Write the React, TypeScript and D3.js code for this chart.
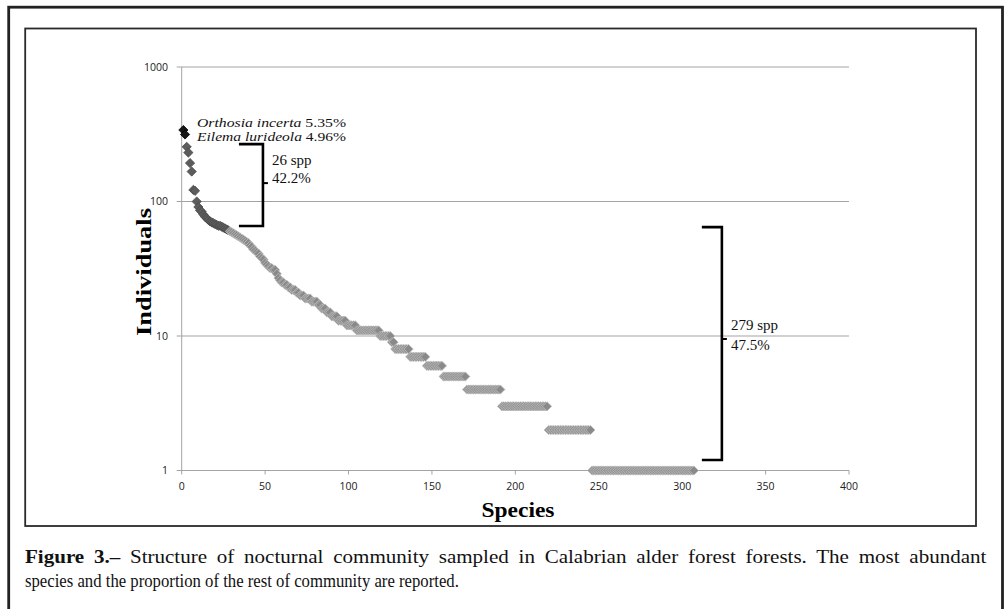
import React, { useRef, useLayoutEffect } from 'react';
import * as d3 from 'd3';

// rank-abundance data (individuals per species, in decreasing order)
const topSpecies = ['Orthosia incerta', 'Eilema lurideola'];
const topShare = ['5.35%', '4.96%'];
const topIndividuals = [340, 315];

// the next 26 species (42.2%)
const midIndividuals = [
  255, 231, 193, 167, 122, 120, 100, 91, 86, 84, 80, 77, 75, 73, 71, 70,
  69, 68, 67, 66, 66, 65, 64, 63, 62, 61,
];

// the remaining 279 species (47.5%): first ranks one by one...
const tailIndividuals = [
  60, 59, 58, 57, 56, 55, 54, 53, 52, 51, 50, 49, 47, 46, 44, 43, 42, 41, 39, 38,
  37, 35, 34, 33, 32, 32, 31, 31, 29, 27, 26, 25, 25, 24, 24, 23, 23, 22, 22, 22,
  21, 21, 20, 20, 20, 19, 19, 19, 19, 18, 18, 18, 18, 17, 17, 16, 16, 16, 15, 15,
  15, 14, 14, 14, 14, 13, 13, 13, 13, 13, 12, 12, 12, 12, 12, 12,
];
// ...then the runs of tied abundances
const tailLevels = [11, 10, 9, 8, 7, 6, 5, 4, 3, 2, 1];
const tailLevelSpecies = [14, 7, 2, 9, 10, 10, 14, 21, 28, 26, 62];

const xTicks = [0, 50, 100, 150, 200, 250, 300, 350, 400];
const yTicks = [1, 10, 100, 1000];

// brackets, in data units
const brackets = [
  { x0: 34.3, x1: 48.7, yTop: 267, yBot: 65.8, yMid: 137, label: ['26 spp', '42.2%'], dy: [-18, -0.3] },
  { x0: 311.8, x1: 323.8, yTop: 64.5, yBot: 1.197, yMid: 9.5, label: ['279 spp', '47.5%'], dy: [-9, 11] },
];

const captionBold = 'Figure 3.–';
const captionLine1 = ' Structure of nocturnal community sampled in Calabrian alder forest forests. The most abundant';
const captionLine2 = 'species and the proportion of the rest of community are reported.';

type Pt = { rank: number; n: number; group: number };

const buildPoints = (): Pt[] => {
  const pts: Pt[] = [];
  let rank = 1;
  topIndividuals.forEach((n) => pts.push({ rank: rank++, n, group: 0 }));
  midIndividuals.forEach((n) => pts.push({ rank: rank++, n, group: 1 }));
  tailIndividuals.forEach((n) => pts.push({ rank: rank++, n, group: 2 }));
  tailLevels.forEach((n, i) => {
    for (let k = 0; k < tailLevelSpecies[i]; k++) pts.push({ rank: rank++, n, group: 2 });
  });
  return pts;
};

const fills = ['#161616', '#5c5c5c', '#8a8a8a'];
const strokes = ['#000', '#4a4a4a', '#bcbcbc'];

const App = () => {
  const g1 = useRef<SVGGElement>(null);
  const g2 = useRef<SVGGElement>(null);
  const line1Ref = useRef<SVGTextElement>(null);
  const line2Ref = useRef<SVGTextElement>(null);

  // caption: line 1 justified to the box width, line 2 left aligned
  useLayoutEffect(() => {
    const l1 = line1Ref.current, l2 = line2Ref.current;
    if (!l1 || !l2 || !g1.current || !g2.current) return;
    const sx2 = 434 / l2.getComputedTextLength();
    d3.select(g2.current).attr('transform', `translate(25,0) scale(${sx2},1)`);
    const spaces = (captionBold + captionLine1).split(' ').length - 1;
    const extra = 4.5; // extra px per word gap
    const sx1 = (962 - spaces * extra) / l1.getComputedTextLength();
    d3.select(g1.current).attr('transform', `translate(25,0) scale(${sx1},1)`);
    d3.select(l1).attr('word-spacing', extra / sx1);
  }, []);

  const x = d3.scaleLinear().domain([0, 400]).range([181.7, 849]);
  const y = d3.scaleLog().domain([1, 1000]).range([470.5, 67]);
  const points = buildPoints();
  const d = 4.6;
  const diamond = `M0,${-d}L${d},0L0,${d}L${-d},0Z`;
  const axisFont = "'Open Sans', sans-serif";
  const serif = "'Liberation Serif', 'Times New Roman', serif";

  return (
    <svg width={1004} height={609} style={{ position: 'absolute', left: 0, top: 0, background: '#fff' }}>
      {/* frames */}
      <rect x={8.7} y={7.2} width={993.8} height={620} fill="none" stroke="#222" strokeWidth={2.8} />
      <rect x={25.2} y={28.5} width={950.8} height={497.5} fill="none" stroke="#2a2a2a" strokeWidth={1.8} />

      {/* gridlines */}
      {yTicks.map((t) => (
        <line key={'g' + t} x1={x(0) - 5} x2={x(400)} y1={y(t)} y2={y(t)} stroke="#a3a3a3" strokeWidth={1} />
      ))}
      <line x1={x(0)} x2={x(0)} y1={y(1000)} y2={y(1)} stroke="#a3a3a3" strokeWidth={1} />
      {xTicks.map((t) => (
        <line key={'xt' + t} x1={x(t)} x2={x(t)} y1={y(1)} y2={y(1) + 4} stroke="#a3a3a3" strokeWidth={1} />
      ))}

      {/* tick labels */}
      {yTicks.map((t) => (
        <text key={'yl' + t} x={168} y={y(t) + 3.5} textAnchor="end" fontFamily={axisFont} fontSize={10.5} fill="#222">
          {t}
        </text>
      ))}
      {xTicks.map((t) => (
        <text key={'xl' + t} x={x(t)} y={490} textAnchor="middle" fontFamily={axisFont} fontSize={10.5} fill="#222">
          {t}
        </text>
      ))}

      {/* axis titles */}
      <text x={518} y={517} textAnchor="middle" fontFamily={serif} fontWeight="bold" fontSize={21}
        textLength={73} lengthAdjust="spacingAndGlyphs">Species</text>
      <text transform="translate(151,272) rotate(-90)" textAnchor="middle" fontFamily={serif} fontWeight="bold"
        fontSize={22} textLength={128} lengthAdjust="spacingAndGlyphs">Individuals</text>

      {/* points */}
      {points.map((p) => (
        <path key={p.rank} d={diamond} transform={`translate(${x(p.rank)},${y(p.n)})`}
          fill={fills[p.group]} stroke={strokes[p.group]} strokeWidth={0.8} />
      ))}

      {/* top species labels */}
      {topSpecies.map((s, i) => (
        <text key={s} x={197} y={126.8 + i * 14} fontFamily={serif} fontSize={13.5} fill="#111"
          textLength={149} lengthAdjust="spacingAndGlyphs">
          <tspan fontStyle="italic">{s}</tspan> {topShare[i]}
        </text>
      ))}

      {/* brackets */}
      {brackets.map((b, i) => {
        const xr = x(b.x1);
        return (
          <g key={'b' + i}>
            <path d={`M${x(b.x0)},${y(b.yTop)}H${xr}V${y(b.yBot)}H${x(b.x0)}`} fill="none" stroke="#000" strokeWidth={2.6} />
            <line x1={xr} x2={xr + 5} y1={y(b.yMid)} y2={y(b.yMid)} stroke="#000" strokeWidth={2} />
            <text x={xr + 9} y={y(b.yMid) + b.dy[0]} fontFamily={serif} fontSize={15} fill="#111">{b.label[0]}</text>
            <text x={xr + 9} y={y(b.yMid) + b.dy[1]} fontFamily={serif} fontSize={15} fill="#111">{b.label[1]}</text>
          </g>
        );
      })}

      {/* caption */}
      <g ref={g1} transform="translate(25,0)">
        <text ref={line1Ref} x={0} y={563} fontFamily={serif} fontSize={18.5} fill="#111">
          <tspan fontWeight="bold">{captionBold}</tspan>{captionLine1}
        </text>
      </g>
      <g ref={g2} transform="translate(25,0)">
        <text ref={line2Ref} x={0} y={587} fontFamily={serif} fontSize={18.5} fill="#111">
          {captionLine2}
        </text>
      </g>
    </svg>
  );
};

export default App;
